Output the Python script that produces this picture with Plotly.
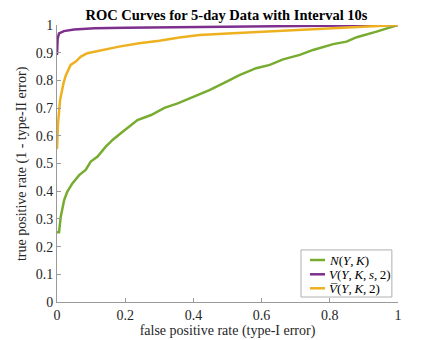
import plotly.graph_objects as go

# ROC curve points (false positive rate, true positive rate)
N_FPR = [0.0, 0.006, 0.011, 0.021, 0.03, 0.045, 0.065, 0.084, 0.099, 0.119, 0.143, 0.163, 0.187,
         0.236, 0.276, 0.315, 0.354, 0.398, 0.447, 0.496, 0.535, 0.584, 0.624, 0.663, 0.712,
         0.751, 0.81, 0.849, 0.879, 0.937, 1.0]
N_TPR = [0.252, 0.252, 0.308, 0.368, 0.398, 0.428, 0.458, 0.477, 0.507, 0.525, 0.561, 0.585, 0.609,
         0.657, 0.675, 0.701, 0.717, 0.741, 0.765, 0.795, 0.819, 0.844, 0.856, 0.876, 0.892,
         0.910, 0.931, 0.940, 0.956, 0.976, 1.0]

V_FPR = [0.0, 0.0, 0.002, 0.006, 0.02, 0.05, 0.11, 0.2, 0.35, 0.5, 0.7, 0.85, 1.0]
V_TPR = [0.892, 0.93, 0.952, 0.970, 0.978, 0.984, 0.988, 0.990, 0.992, 0.995, 0.997, 0.998, 1.0]

VBAR_FPR = [0.0, 0.003, 0.009, 0.019, 0.026, 0.04, 0.055, 0.07, 0.089, 0.119, 0.148, 0.182,
            0.241, 0.3, 0.359, 0.418, 0.515, 0.614, 0.712, 0.81, 0.908, 1.0]
VBAR_TPR = [0.552, 0.645, 0.729, 0.79, 0.819, 0.856, 0.868, 0.886, 0.898, 0.906, 0.912, 0.922,
            0.934, 0.943, 0.955, 0.964, 0.970, 0.976, 0.980, 0.986, 0.992, 1.0]

Y_TICKS = [0, 0.1, 0.2, 0.3, 0.4, 0.5, 0.6, 0.7, 0.8, 0.9, 1]
X_TICKS = [0, 0.2, 0.4, 0.6, 0.8, 1]

TS = "\u2009"  # thin space, like LaTeX math after commas
SERIES = [
    (f"<i>N</i>(<i>Y</i>,{TS}<i>K</i>)", N_FPR, N_TPR, "#77AC30"),
    (f"<i>V</i>(<i>Y</i>,{TS}<i>K</i>,{TS}<i>s</i>,{TS}2)", V_FPR, V_TPR, "#7E2F8E"),
    (f"<i>V\u0305</i>(<i>Y</i>,{TS}<i>K</i>,{TS}2)", VBAR_FPR, VBAR_TPR, "#EDB120"),
]

FONT = "Liberation Serif, Times New Roman, serif"
AXIS_GRAY = "#9a9a9a"

fig = go.Figure()
for name, xs, ys, color in SERIES:
    fig.add_trace(go.Scatter(x=xs, y=ys, mode="lines", name=name,
                             line={"color": color, "width": 2.5}))

# MATLAB-style compact legend box, drawn in the lower right of the axes
shapes = [dict(type="rect", xref="paper", yref="paper", x0=0.7155, x1=0.982, y0=0.018, y1=0.188,
               line={"color": "#b0b0b0", "width": 1}, fillcolor="white", layer="above")]
annotations = []
for (name, _, _, color), row_y in zip(SERIES, [0.1516, 0.100, 0.0495]):
    shapes.append(dict(type="line", xref="paper", yref="paper", x0=0.742, x1=0.786, y0=row_y, y1=row_y,
                       line={"color": color, "width": 2.5}, layer="above"))
    annotations.append(dict(xref="paper", yref="paper", x=0.792, y=row_y, text=name, showarrow=False,
                            xanchor="left", yanchor="middle",
                            font={"family": FONT, "size": 13, "color": "#000000"}))

# y axis title, placed close to the tick labels like MATLAB does
annotations.append(dict(xref="paper", yref="paper", x=-0.104, y=0.5, textangle=-90,
                        text="true positive rate (1 - type-II error)", showarrow=False,
                        xanchor="center", yanchor="middle",
                        font={"family": FONT, "size": 14, "color": "#262626"}))

axis_common = {
    "range": [0, 1],
    "showgrid": False,
    "zeroline": False,
    "showline": True,
    "linecolor": AXIS_GRAY,
    "linewidth": 1,
    "ticks": "inside",
    "ticklen": 4,
    "tickcolor": AXIS_GRAY,
    "tickfont": {"family": FONT, "size": 14, "color": "#262626"},
    "automargin": False,
}

# the page body adds an 8px offset, so the margins below are shifted to compensate
fig.update_layout(
    width=432,
    height=332,
    margin={"l": 49, "r": 42, "t": 17, "b": 38},
    paper_bgcolor="white",
    plot_bgcolor="white",
    font={"family": FONT, "color": "#262626"},
    title={"text": "<b>ROC Curves for 5-day Data with Interval 10s</b>",
           "xref": "paper", "x": 0.497, "xanchor": "center",
           "y": 0.979, "yanchor": "middle",
           "font": {"family": FONT, "size": 14.5, "color": "#000000"}},
    xaxis={**axis_common, "tickvals": X_TICKS, "ticktext": [f"{t:g}" for t in X_TICKS],
           "title": {"text": "false positive rate (type-I error)", "standoff": 1,
                     "font": {"family": FONT, "size": 14}}},
    yaxis={**axis_common, "tickvals": Y_TICKS, "ticktext": [f"{t:g}" for t in Y_TICKS]},
    shapes=shapes,
    annotations=annotations,
    showlegend=False,
)

fig.write_html("out.html")
